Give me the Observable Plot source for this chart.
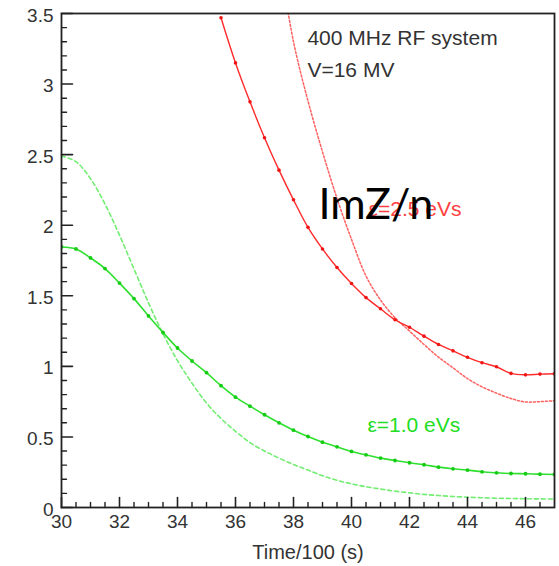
<!DOCTYPE html>
<html><head><meta charset="utf-8">
<script src="https://cdn.jsdelivr.net/npm/d3@7"></script>
<script src="https://cdn.jsdelivr.net/npm/@observablehq/plot@0.6"></script>
<style>html,body{margin:0;padding:0;background:#fff;} #chart svg{display:block}</style>
</head><body><div id="chart"></div>
<script>
const time = [30,30.5,31,31.5,32,32.5,33,33.5,34,34.5,35,35.5,36,36.5,37,37.5,38,38.5,39,39.5,40,40.5,41,41.5,42,42.5,43,43.5,44,44.5,45,45.5,46,46.5,47];
const greenSolid = [1.846,1.832,1.768,1.693,1.59,1.48,1.357,1.24,1.13,1.038,0.955,0.863,0.782,0.718,0.657,0.60,0.548,0.503,0.463,0.43,0.397,0.373,0.35,0.333,0.317,0.303,0.286,0.274,0.265,0.253,0.246,0.241,0.239,0.236,0.234];
const greenDashed = [2.49,2.45,2.33,2.15,1.93,1.69,1.45,1.23,1.04,0.88,0.74,0.63,0.54,0.46,0.40,0.35,0.305,0.265,0.225,0.193,0.168,0.147,0.131,0.116,0.104,0.093,0.085,0.078,0.073,0.069,0.066,0.064,0.062,0.061,0.06];
const redSolid = [null,null,null,null,null,null,null,null,null,null,null,3.47,3.15,2.874,2.62,2.39,2.18,1.985,1.832,1.70,1.587,1.487,1.408,1.33,1.277,1.214,1.155,1.11,1.064,1.026,0.997,0.95,0.94,0.945,0.948];
const redDashed = [null,null,null,null,null,null,null,null,null,null,null,null,null,null,null,3.9,3.30,2.88,2.52,2.19,1.90,1.64,1.47,1.345,1.25,1.155,1.065,0.99,0.913,0.855,0.81,0.772,0.748,0.75,0.757];

const xMajorTicks = [30,32,34,36,38,40,42,44,46];
const xTickLabels = ["30","32","34","36","38","40","42","44","46"];
const xMinorTicks = [30.5,31,31.5,32.5,33,33.5,34.5,35,35.5,36.5,37,37.5,38.5,39,39.5,40.5,41,41.5,42.5,43,43.5,44.5,45,45.5,46.5];
const yMajorTicks = [0,0.5,1,1.5,2,2.5,3,3.5];
const yTickLabels = ["0","0.5","1","1.5","2","2.5","3","3.5"];
const yMinorTicks = [0.1,0.2,0.3,0.4,0.6,0.7,0.8,0.9,1.1,1.2,1.3,1.4,1.6,1.7,1.8,1.9,2.1,2.2,2.3,2.4,2.6,2.7,2.8,2.9,3.1,3.2,3.3,3.4];

const xLabel = "Time/100 (s)";
const systemLines = ["400 MHz RF system", "V=16 MV"];
const redLabel = "ε=2.5 eVs";
const greenLabel = "ε=1.0 eVs";
const overlayLabel = "ImZ/n";

const W = 559, H = 566;
const mL = 61, mR = 5, mT = 13, mB = 59;

const rows = (vals) => time.map((t, i) => ({t, v: vals[i]}));
const gS = rows(greenSolid), gD = rows(greenDashed), rS = rows(redSolid), rD = rows(redDashed);

const GREEN = "#2ee02e", GREEN_DOT = "#14cc14", GREEN_DASH = "#72ee72";
const RED = "#ff2b2b", RED_DOT = "#f01515", RED_DASH = "#ff6060";
const AX = "#222";

// a plain line shape for inward tick vectors
const tickShape = {draw(context, l) { context.moveTo(0, 0); context.lineTo(0, -l); }};

const chart = Plot.plot({
  width: W, height: H,
  marginLeft: mL, marginRight: mR, marginTop: mT, marginBottom: mB,
  style: {fontFamily: "'Liberation Sans', Arial, sans-serif", fontSize: "19px", background: "#fff", color: "#333"},
  x: {domain: [30, 47]},
  y: {domain: [0, 3.5]},
  marks: [
    Plot.axisX(xMajorTicks, {tickSize: 0, tickPadding: 7, tickFormat: d => xTickLabels[xMajorTicks.indexOf(d)], label: null, fill: "#333", fontSize: 19}),
    Plot.axisY(yMajorTicks, {tickSize: 0, tickPadding: 8, tickFormat: d => yTickLabels[yMajorTicks.indexOf(d)], label: null, fill: "#333", fontSize: 19, dy: 2}),
    // data
    Plot.line(gD, {x: "t", y: "v", stroke: GREEN_DASH, strokeWidth: 1.6, strokeDasharray: "4,3", curve: "catmull-rom", clip: true}),
    Plot.line(rD, {x: "t", y: "v", stroke: RED_DASH, strokeWidth: 1.5, strokeDasharray: "2,2", curve: "catmull-rom", clip: true}),
    Plot.line(gS, {x: "t", y: "v", stroke: GREEN, strokeWidth: 1.6, curve: "catmull-rom", clip: true}),
    Plot.dot(gS, {x: "t", y: "v", r: 1.9, fill: GREEN_DOT, clip: true}),
    Plot.line(rS, {x: "t", y: "v", stroke: RED, strokeWidth: 1.4, curve: "catmull-rom", clip: true}),
    Plot.dot(rS, {x: "t", y: "v", r: 1.8, fill: RED_DOT, clip: true}),
    // inward ticks
    Plot.vector(xMajorTicks, {x: d => d, frameAnchor: "bottom", length: 10, anchor: "start", rotate: 0, shape: tickShape, stroke: AX, strokeWidth: 1.6}),
    Plot.vector(xMinorTicks, {x: d => d, frameAnchor: "bottom", length: 5, anchor: "start", rotate: 0, shape: tickShape, stroke: AX, strokeWidth: 1.4}),
    Plot.vector(yMajorTicks, {y: d => d, frameAnchor: "left", length: 11, anchor: "start", rotate: 90, shape: tickShape, stroke: AX, strokeWidth: 1.6}),
    Plot.vector(yMinorTicks, {y: d => d, frameAnchor: "left", length: 5, anchor: "start", rotate: 90, shape: tickShape, stroke: AX, strokeWidth: 1.4}),
    Plot.frame({stroke: AX, strokeWidth: 1.8}),
    // annotations
    Plot.text([systemLines[0]], {x: 38.48, y: 3.322, text: d => d, textAnchor: "start", fill: "#333", fontSize: 21}),
    Plot.text([systemLines[1]], {x: 38.48, y: 3.099, text: d => d, textAnchor: "start", fill: "#333", fontSize: 21}),
    Plot.text([redLabel], {x: 40.59, y: 2.113, text: d => d, textAnchor: "start", fill: "#ff4040", fontSize: 21}),
    Plot.text([greenLabel], {x: 40.55, y: 0.58, text: d => d, textAnchor: "start", fill: "#22dd22", fontSize: 21}),
    Plot.text([overlayLabel], {x: 38.86, y: 2.14, text: d => d, textAnchor: "start", fill: "#000", fontSize: 43, fontFamily: "Lato, 'Open Sans', sans-serif"}),
    Plot.text([xLabel], {frameAnchor: "bottom", dy: 51, text: d => d, fill: "#333", fontSize: 20})
  ]
});
document.getElementById("chart").appendChild(chart);
</script>
</body></html>
